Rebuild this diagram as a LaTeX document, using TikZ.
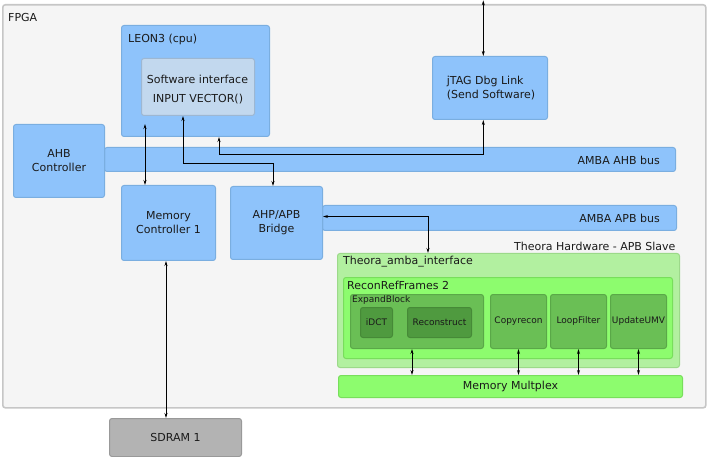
\documentclass[tikz,border=0pt]{standalone}
\usepackage{fontspec}
\setmainfont{DejaVu Sans}
\usetikzlibrary{arrows.meta,positioning}
\definecolor{frameF}{HTML}{F5F5F5}
\definecolor{frameD}{HTML}{C6C6C6}
\definecolor{blueF}{HTML}{8EC3FB}
\definecolor{blueD}{HTML}{7AAEE0}
\definecolor{swF}{HTML}{C2D8EE}
\definecolor{swD}{HTML}{9DB7D2}
\definecolor{grayF}{HTML}{B3B3B3}
\definecolor{grayD}{HTML}{999999}
\definecolor{gA}{HTML}{B2F0A0}
\definecolor{gAd}{HTML}{9CD98A}
\definecolor{gB}{HTML}{8DFC6E}
\definecolor{gBd}{HTML}{78DE5C}
\definecolor{gC}{HTML}{6ABF55}
\definecolor{gCd}{HTML}{5AA848}
\definecolor{gD}{HTML}{4F9A3F}
\definecolor{gDd}{HTML}{468A37}
\definecolor{txt}{HTML}{1A1A1A}
\tikzset{
  base/.style={rounded corners=2.5pt, line width=1pt, inner sep=0pt, anchor=north west, align=center, text=txt},
  bluebox/.style={base, fill=blueF, draw=blueD},
  swbox/.style={base, fill=swF, draw=swD},
  graybox/.style={base, fill=grayF, draw=grayD},
  gboxA/.style={base, fill=gA, draw=gAd},
  gboxB/.style={base, fill=gB, draw=gBd},
  gboxC/.style={base, fill=gC, draw=gCd, font=\fontsize{9}{11}\selectfont},
  gboxD/.style={base, fill=gD, draw=gDd, font=\fontsize{9}{11}\selectfont},
  lbl/.style={inner sep=0pt, text=txt},
  slbl/.style={inner sep=0pt, text=txt, font=\fontsize{9}{11}\selectfont},
  biarr/.style={line width=0.9pt, draw=black, {Stealth[length=5pt,width=3pt]}-{Stealth[length=5pt,width=3pt]}},
}
\begin{document}
\begin{tikzpicture}[x=1pt, y=-1pt, font=\fontsize{11}{14}\selectfont]
\useasboundingbox (0,0) rectangle (707,457);
% FPGA frame
\node[base, fill=frameF, draw=frameD, line width=1.6pt, minimum width=703pt, minimum height=403pt] (fpga) at (2,4) {};
\node[lbl, anchor=west] (fpgal) at (8,17) {FPGA};
% buses
\node[bluebox, minimum width=571pt, minimum height=24pt] (ahb) at (104,147) {};
\node[lbl, anchor=east] (ahbl) at (660,160) {AMBA AHB bus};
\node[bluebox, minimum width=354pt, minimum height=25pt] (apb) at (322,205) {};
\node[lbl, anchor=east] (apbl) at (660,218.5) {AMBA APB bus};
% blue boxes
\node[bluebox, minimum width=148pt, minimum height=111pt] (leon) at (121,25) {};
\node[lbl, anchor=west] (leonl) at (128,39) {LEON3 (cpu)};
\node[swbox, minimum width=113pt, minimum height=57pt] (sw) at (141,58) {};
\node[lbl] (swl1) at (197.5,79) {Software interface};
\node[lbl] (swl2) at (198,99.5) {INPUT VECTOR()};
\node[bluebox, minimum width=91pt, minimum height=73pt] (ahbc) at (13,124) {AHB\\Controller};
\node[bluebox, minimum width=94pt, minimum height=75pt] (mc) at (121,185) {Memory\\Controller 1};
\node[bluebox, minimum width=92pt, minimum height=73pt] (br) at (230,186) {AHP/APB\\Bridge};
\node[bluebox, minimum width=115pt, minimum height=63pt] (jtag) at (432,56) {};
\node[lbl, align=left] (jtagl) at (491,88) {jTAG Dbg Link\\(Send Software)};
\node[graybox, minimum width=132pt, minimum height=38pt] (sd) at (109,418) {SDRAM 1};
% Theora
\node[lbl, anchor=east] (thl) at (675.7,246) {Theora Hardware - APB Slave};
\node[gboxA, minimum width=342pt, minimum height=114pt] (tai) at (337,253) {};
\node[lbl, anchor=west] (tail) at (343,262) {Theora\_amba\_interface};
\node[gboxB, minimum width=329pt, minimum height=81pt] (rrf) at (343,277) {};
\node[lbl, anchor=west] (rrfl) at (347,285) {ReconRefFrames 2};
\node[gboxC, minimum width=133pt, minimum height=54pt] (eb) at (350,294) {};
\node[slbl, anchor=west] (ebl) at (352,300.5) {ExpandBlock};
\node[gboxD, minimum width=32pt, minimum height=30pt] (idct) at (360,307) {iDCT};
\node[gboxD, minimum width=64pt, minimum height=30pt] (rc) at (407,307) {Reconstruct};
\node[gboxC, minimum width=56pt, minimum height=54pt] (cr) at (490,294) {Copyrecon};
\node[gboxC, minimum width=56pt, minimum height=54pt] (lf) at (550,294) {LoopFilter};
\node[gboxC, minimum width=56pt, minimum height=54pt] (um) at (610,294) {UpdateUMV};
\node[base, fill=gB, draw=gBd, minimum width=344pt, minimum height=22pt] (mm) at (338,375) {Memory Multplex};
% connectors
\coordinate (ext) at (483.3,0.3);
\draw[biarr] (ext) -- ([xshift=51.3pt]jtag.north west);
\draw[biarr] ([xshift=98pt]leon.south west) -- ++(0,17) -| ([xshift=51.3pt]jtag.south west);
\draw[biarr] ([xshift=24pt,yshift=13pt]leon.south west) -- ([xshift=24pt]mc.north west);
\draw[biarr] ([xshift=42pt]sw.south west) -- ++(0,47) -| ([xshift=43pt]br.north west);
\draw[biarr] ([yshift=6.5pt]br.east) -| ([xshift=91pt]tai.north west);
\draw[biarr] ([xshift=45pt]mc.south west) -- ([xshift=57pt]sd.north west);
\draw[biarr] ([xshift=62pt]eb.south west) -- ([xshift=62pt]eb.south west |- mm.north);
\draw[biarr] (cr.south) -- (cr.south |- mm.north);
\draw[biarr] (lf.south) -- (lf.south |- mm.north);
\draw[biarr] (um.south) -- (um.south |- mm.north);
\end{tikzpicture}
\end{document}
